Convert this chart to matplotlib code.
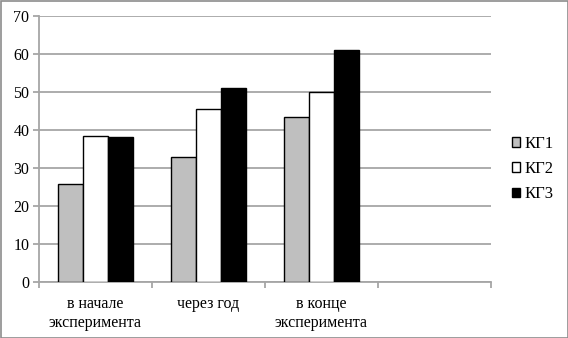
import matplotlib
matplotlib.use("Agg")
import matplotlib.pyplot as plt
from matplotlib.patches import Rectangle, Patch
import numpy as np

categories = ["в начале\nэксперимента", "через год", "в конце\nэксперимента"]
series_names = ["КГ1", "КГ2", "КГ3"]
kg1 = [25.7, 33.0, 43.4]
kg2 = [38.4, 45.5, 50.0]
kg3 = [38.2, 51.0, 61.0]
colors = ["#bfbfbf", "#ffffff", "#000000"]
yticks = [0, 10, 20, 30, 40, 50, 60, 70]

plt.rcParams['font.family'] = ['Liberation Serif', 'DejaVu Serif']

fig = plt.figure(figsize=(5.68, 3.38), dpi=100)
ax = fig.add_axes([39/568, 1-282/338, (491-39)/568, (282-16)/338])

n_slots = 4
x = np.arange(len(categories))
w = 1/4.5
grid_c = "#a6a6a6"
for i, (vals, c) in enumerate(zip([kg1, kg2, kg3], colors)):
    ax.bar(x + (i-1)*w, vals, width=w, color=c, edgecolor="black", linewidth=1.0,
           label=series_names[i], zorder=3)

ax.set_xlim(-0.5, n_slots-0.5)
ax.set_ylim(0, 70)
ax.set_yticks(yticks)
ax.yaxis.grid(True, color=grid_c, linewidth=1.3, zorder=0)
ax.set_xticks(np.arange(-0.5, n_slots, 1.0))
ax.set_xticklabels([])
ax.set_xticks(x, minor=True)
ax.set_xticklabels(categories, minor=True, fontsize=11.5, linespacing=1.3)
ax.tick_params(axis='x', which='minor', length=0, pad=10)
ax.tick_params(axis='x', which='major', length=4, color=grid_c, width=1.3)
ax.tick_params(axis='y', length=4, color=grid_c, width=1.3, labelsize=11.5, pad=3)
for s in ["top", "right"]:
    ax.spines[s].set_visible(False)
for s in ["left", "bottom"]:
    ax.spines[s].set_color(grid_c)
    ax.spines[s].set_linewidth(1.3)

handles = [Patch(facecolor=c, edgecolor="black", linewidth=1.0) for c in colors]
fig.legend(handles, series_names, loc="center left", bbox_to_anchor=(512/568, 1-169/338),
           frameon=False, fontsize=12, handlelength=0.5, handleheight=0.5,
           handletextpad=0.25, labelspacing=0.55, borderaxespad=0, borderpad=0)

fig.patches.append(Rectangle((0.5/568, 0.5/338), 1-1/568, 1-1/338, transform=fig.transFigure,
                             fill=False, edgecolor="#8c8c8c", linewidth=1.2))

fig.savefig("out.png", dpi=100)
